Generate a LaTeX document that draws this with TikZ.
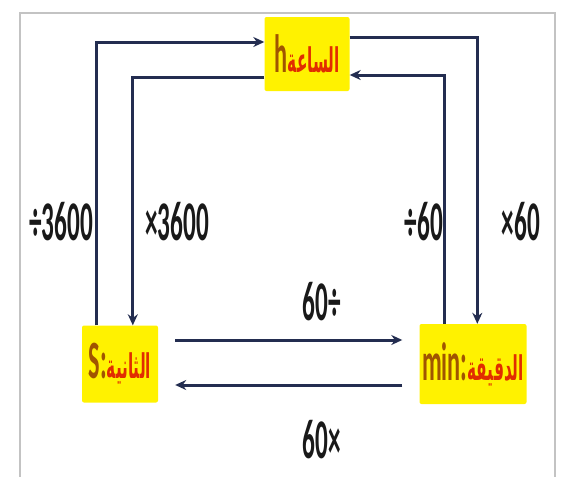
\documentclass[tikz,border=0pt]{standalone}
\usepackage{fontspec}
\usepackage{graphicx}
\setmainfont{Carlito}
\newfontfamily\arabicfont[Script=Arabic]{DejaVu Sans}
\TeXXeTstate=1
\usetikzlibrary{arrows.meta,calc}
\definecolor{navy}{RGB}{35,45,80}
\definecolor{latbrown}{RGB}{160,85,0}
\definecolor{arred}{RGB}{225,45,0}
\definecolor{framegray}{RGB}{195,195,195}
\newcommand{\nrw}[1]{\scalebox{0.45}[1]{#1}}
\newcommand{\lat}[1]{{\bfseries\fontsize{54}{54}\selectfont\color{latbrown}#1}}
\newcommand{\arb}[1]{{\arabicfont\bfseries\fontsize{34}{34}\selectfont\color{arred}\beginR #1\endR}}
\begin{document}
\begin{tikzpicture}[x=1pt,y=-1pt,
  box/.style={fill=yellow, inner sep=0pt, rounded corners=2pt},
  lbl/.style={font=\bfseries\fontsize{56}{56}\selectfont, text=black!90, inner sep=0pt},
  arr/.style={draw=navy, line width=3pt, -{Stealth[length=11pt,width=10pt]}}]
\useasboundingbox (0,0) rectangle (563,477);
\draw[framegray, line width=2.5pt] (20,477) -- (20,13) -- (555,13) -- (555,477);

\node[box, minimum width=85pt, minimum height=74pt] (h) at (307,54) {\nrw{\lat{h}\,\arb{الساعة}}};
\node[box, minimum width=76pt, minimum height=77pt] (s) at (120,364) {\nrw{\lat{S:}\arb{الثانية}}};
\node[box, minimum width=107pt, minimum height=80pt] (m) at (473,364) {\nrw{\lat{min:}\arb{الدقيقة}}};

\draw[arr] ([xshift=15pt]s.north west) |- ([yshift=12pt]h.west);
\draw[arr] ([yshift=-23pt]h.west) -| ([xshift=51pt]s.north west);
\draw[arr] ([yshift=17pt]h.east) -| ([xshift=58pt]m.north west);
\draw[arr] ([xshift=25pt]m.north west) |- ([yshift=-21pt]h.east);
\draw[arr] ([xshift=17pt,yshift=24pt]s.east) -- ([xshift=-17pt,yshift=24pt]m.west);
\draw[arr] ([xshift=-17pt,yshift=-21pt]m.west) -- ([xshift=17pt,yshift=-21pt]s.east);

\node[lbl] (l1) at (61,222) {\nrw{÷3600}};
\node[lbl] (l2) at (177,222) {\nrw{×3600}};
\node[lbl] (l3) at (424,222) {\nrw{÷60}};
\node[lbl] (l4) at (521,222) {\nrw{×60}};
\node[lbl] (l5) at (322,302) {\nrw{60÷}};
\node[lbl] (l6) at (322,440) {\nrw{60×}};
\end{tikzpicture}
\end{document}
